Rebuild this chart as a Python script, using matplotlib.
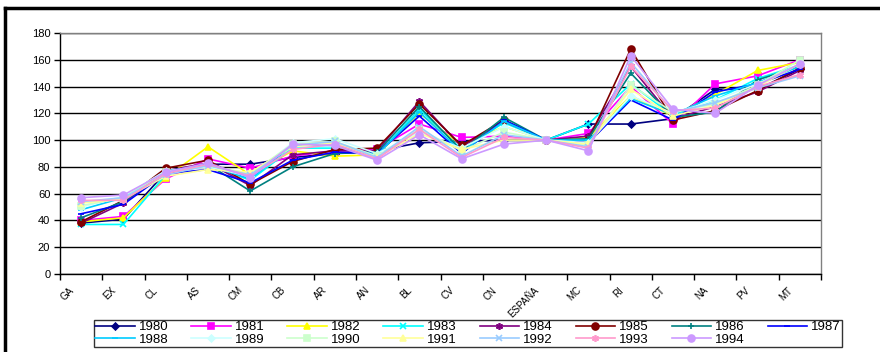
import matplotlib
matplotlib.use("Agg")
import matplotlib.pyplot as plt
from matplotlib.lines import Line2D
import numpy as np

plt.rcParams['font.family'] = ['Liberation Sans', 'DejaVu Sans']

regions = ["GA", "EX", "CL", "AS", "CM", "CB", "AR", "AN", "BL", "CV", "CN",
           "ESPAÑA", "MC", "RI", "CT", "NA", "PV", "MT"]

years = ["1980", "1981", "1982", "1983", "1984", "1985", "1986", "1987",
         "1988", "1989", "1990", "1991", "1992", "1993", "1994"]

v1980 = [38, 41, 76, 82, 82, 87, 90, 92, 98, 99, 100, 100, 112, 112, 116, 138, 138, 153]
v1981 = [40, 43, 71, 86, 79, 88, 92, 93, 112, 102, 103, 100, 105, 140, 112, 142, 148, 160]
v1982 = [39, 42, 72, 95, 74, 92, 88, 89, 120, 96, 110, 100, 102, 133, 118, 134, 152, 158]
v1983 = [37, 37, 74, 82, 70, 94, 94, 89, 123, 93, 113, 100, 112, 142, 118, 130, 146, 156]
v1984 = [38, 53, 77, 83, 66, 89, 92, 92, 129, 95, 114, 100, 103, 155, 116, 125, 136, 152]
v1985 = [39, 55, 79, 85, 67, 84, 93, 94, 127, 96, 115, 100, 100, 168, 115, 122, 137, 154]
v1986 = [42, 54, 76, 82, 62, 80, 90, 91, 125, 92, 117, 100, 101, 150, 117, 121, 145, 155]
v1987 = [45, 52, 75, 78, 68, 85, 91, 90, 118, 90, 115, 100, 98, 130, 115, 136, 142, 153]
v1988 = [48, 57, 77, 81, 71, 96, 96, 89, 121, 91, 114, 100, 100, 131, 119, 133, 143, 155]
v1989 = [50, 58, 77, 80, 73, 98, 101, 90, 106, 94, 110, 100, 98, 133, 120, 130, 142, 157]
v1990 = [51, 57, 76, 81, 75, 97, 99, 88, 108, 92, 106, 100, 96, 141, 121, 127, 141, 160]
v1991 = [53, 56, 73, 78, 76, 95, 98, 87, 105, 93, 100, 100, 97, 138, 118, 126, 140, 157]
v1992 = [54, 57, 74, 81, 74, 96, 99, 87, 110, 88, 104, 100, 95, 158, 121, 128, 139, 148]
v1993 = [55, 55, 75, 82, 73, 93, 97, 86, 108, 87, 102, 100, 94, 155, 122, 124, 140, 149]
v1994 = [57, 59, 76, 83, 72, 97, 96, 85, 104, 86, 97, 100, 92, 163, 123, 120, 141, 157]

series = [v1980, v1981, v1982, v1983, v1984, v1985, v1986, v1987,
          v1988, v1989, v1990, v1991, v1992, v1993, v1994]

colors = ["#000080", "#FF00FF", "#FFFF00", "#00FFFF", "#800080", "#800000",
          "#008080", "#0000FF", "#00CCFF", "#CCFFFF", "#CCFFCC", "#FFFF99",
          "#99CCFF", "#FF99CC", "#CC99FF"]
markers = ["D", "s", "^", "x", (6, 2, 0), "o", "+", "_",
           "_", "D", "s", "^", "x", (6, 2, 0), "o"]
msizes = [3.5, 5, 5, 5, 5, 5, 5, 5, 5, 3.5, 5, 5, 5, 5, 5]

fig = plt.figure(figsize=(8.8, 3.52), dpi=100)
ax = fig.add_axes([60 / 880, 1 - 274 / 352, (821 - 60) / 880, (274 - 33) / 352])

x = np.arange(len(regions))
for vals, c, m, ms in zip(series, colors, markers, msizes):
    ax.plot(x, vals, color=c, lw=1.2, marker=m, markersize=ms,
            markeredgecolor=c, markerfacecolor=c, markeredgewidth=1.2)

ax.set_xlim(-0.5, len(regions) - 0.5)
ax.set_ylim(0, 180)
ax.set_yticks(np.arange(0, 181, 20))
ax.yaxis.grid(True, color="black", lw=1)
ax.set_axisbelow(True)

# labels sit a bit left of the category centre, like the Excel original
ax.set_xticks(x - 0.3)
ax.set_xticklabels(regions, rotation=45, ha="right", va="top",
                   rotation_mode="anchor", fontsize=7)
ax.set_xticks(np.arange(-0.5, len(regions), 1), minor=True)
ax.tick_params(axis="x", which="major", length=0, pad=8)
ax.tick_params(axis="x", which="minor", length=4, width=1, direction="out")
ax.tick_params(axis="y", length=4, width=1, labelsize=8, pad=3)

ax.spines["left"].set_color("black")
ax.spines["bottom"].set_color("black")
ax.spines["top"].set_color("#808080")
ax.spines["right"].set_color("#808080")
for s in ax.spines.values():
    s.set_linewidth(1)

# outer chart frame
fig.add_artist(Line2D([5 / 880, 1], [1 - 8 / 352, 1 - 8 / 352], color="black", lw=2.5))
fig.add_artist(Line2D([5 / 880, 5 / 880], [0, 1 - 8 / 352], color="black", lw=2.5))

# legend filled row by row: 1980-1987 on top, 1988-1994 below
lines = ax.get_lines()
order = []
for i in range(8):
    order.append(i)
    if i + 8 < len(years):
        order.append(i + 8)
leg = fig.legend([lines[i] for i in order], [years[i] for i in order],
                 ncol=8, loc="lower left",
                 bbox_to_anchor=(94 / 880, 1 - 347 / 352, (842 - 94) / 880, 33 / 352),
                 mode="expand", fontsize=9.5, frameon=True, fancybox=False,
                 handlelength=3.0, handletextpad=0.3, borderpad=0.1,
                 labelspacing=0.0, columnspacing=1.0, borderaxespad=0)
leg.get_frame().set_edgecolor("black")
leg.get_frame().set_linewidth(1)

fig.savefig("out.png", dpi=100)
